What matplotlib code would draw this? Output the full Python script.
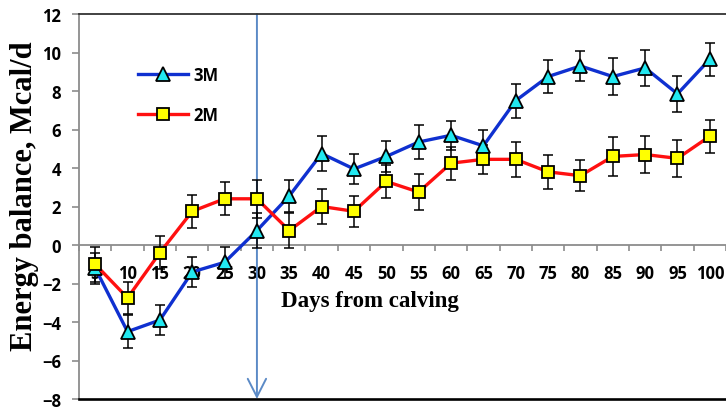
import numpy as np
import matplotlib
matplotlib.use('Agg')
import matplotlib.pyplot as plt
from matplotlib.ticker import FixedLocator

DAYS = [5, 10, 15, 20, 25, 30, 35, 40, 45, 50, 55, 60, 65, 70, 75, 80, 85, 90, 95, 100]
M3 = [-1.2, -4.5, -3.9, -1.4, -0.9, 0.75, 2.55, 4.75, 3.95, 4.6, 5.35, 5.7, 5.15,
      7.5, 8.75, 9.3, 8.75, 9.2, 7.85, 9.65]
M3_ERR = [0.8, 0.85, 0.8, 0.8, 0.8, 0.9, 0.85, 0.9, 0.8, 0.8, 0.9, 0.75, 0.8,
          0.88, 0.87, 0.8, 0.95, 0.95, 0.95, 0.85]
M2 = [-1.0, -2.75, -0.4, 1.75, 2.4, 2.4, 0.75, 2.0, 1.75, 3.3, 2.75, 4.25, 4.45,
      4.45, 3.8, 3.6, 4.6, 4.7, 4.5, 5.65]
M2_ERR = [0.9, 0.85, 0.85, 0.85, 0.85, 1.0, 0.9, 0.9, 0.8, 0.85, 0.93, 0.85, 0.75,
          0.9, 0.9, 0.8, 1.0, 0.97, 0.97, 0.85]
YTICKS = [-8, -6, -4, -2, 0, 2, 4, 6, 8, 10, 12]
ARROW_DAY = 30

SERIF = 'Liberation Serif'
GREY = '#8c8c8c'

plt.rcParams['font.family'] = 'Open Sans'
plt.rcParams['font.weight'] = 'bold'
plt.rcParams['font.size'] = 12

fig = plt.figure(figsize=(7.26, 4.10), dpi=100)
ax = fig.add_axes([79 / 726, 10 / 410, 1 - 79 / 726, 385 / 410])

pos = np.arange(1, len(DAYS) + 1)

# spine first, ticks are rebuilt when it moves
ax.spines['bottom'].set_position(('data', 0))
ax.spines['right'].set_visible(False)
for side in ('bottom', 'left'):
    ax.spines[side].set_color(GREY)
    ax.spines[side].set_linewidth(1.3)
ax.spines['top'].set_color('#333333')
ax.spines['top'].set_linewidth(1.3)

ax.errorbar(pos, M3, yerr=M3_ERR, fmt='none', ecolor='black', elinewidth=1.1,
            capsize=3.6, capthick=1.1, zorder=3)
ax.errorbar(pos, M2, yerr=M2_ERR, fmt='none', ecolor='black', elinewidth=1.1,
            capsize=3.6, capthick=1.1, zorder=3)
ax.plot(pos, M3, color='#0f30d0', lw=2.4, marker='^', ms=10, mfc='#22e8f0',
        mec='black', mew=1.3, zorder=4, label='3M')
ax.plot(pos, M2, color='#ff1010', lw=2.4, marker='s', ms=8, mfc='#ffff00',
        mec='black', mew=1.3, zorder=4, label='2M')

xa = pos[DAYS.index(ARROW_DAY)]
ax.annotate('', xy=(xa, -8), xytext=(xa, 12),
            arrowprops=dict(arrowstyle='->,head_length=0.65,head_width=0.33',
                            mutation_scale=20, color='#5b8ac6', lw=1.4,
                            shrinkA=0, shrinkB=0), zorder=2)

ax.set_xlim(0.5, len(DAYS) + 0.5)
ax.set_ylim(-8, 12)
ax.set_yticks(YTICKS)
ax.set_xticks(pos, [str(d) for d in DAYS])
ax.xaxis.set_minor_locator(FixedLocator(np.arange(0.5, len(DAYS) + 1, 1)))
ax.tick_params(axis='x', which='major', length=0, pad=14)
ax.tick_params(axis='x', which='minor', length=4.5, width=1.2, color=GREY,
               direction='out')
ax.tick_params(axis='y', length=5, width=1.2, color=GREY, pad=8)

ax.axhline(-8, color='black', lw=1.9, clip_on=False, zorder=5)

ax.set_ylabel('Energy balance, Mcal/d', fontfamily=SERIF, fontweight='bold',
              fontsize=22, va='center')
ax.yaxis.set_label_coords(-0.085, 0.53)
ax.text(0.45, 0.255, 'Days from calving', transform=ax.transAxes, ha='center',
        va='center', fontfamily=SERIF, fontweight='bold', fontsize=16.5)

ax.legend(loc='upper left', bbox_to_anchor=(0.068, 0.905), frameon=False,
          handlelength=3.0, labelspacing=1.35, handletextpad=0.3)

fig.savefig('out.png', dpi=100)
